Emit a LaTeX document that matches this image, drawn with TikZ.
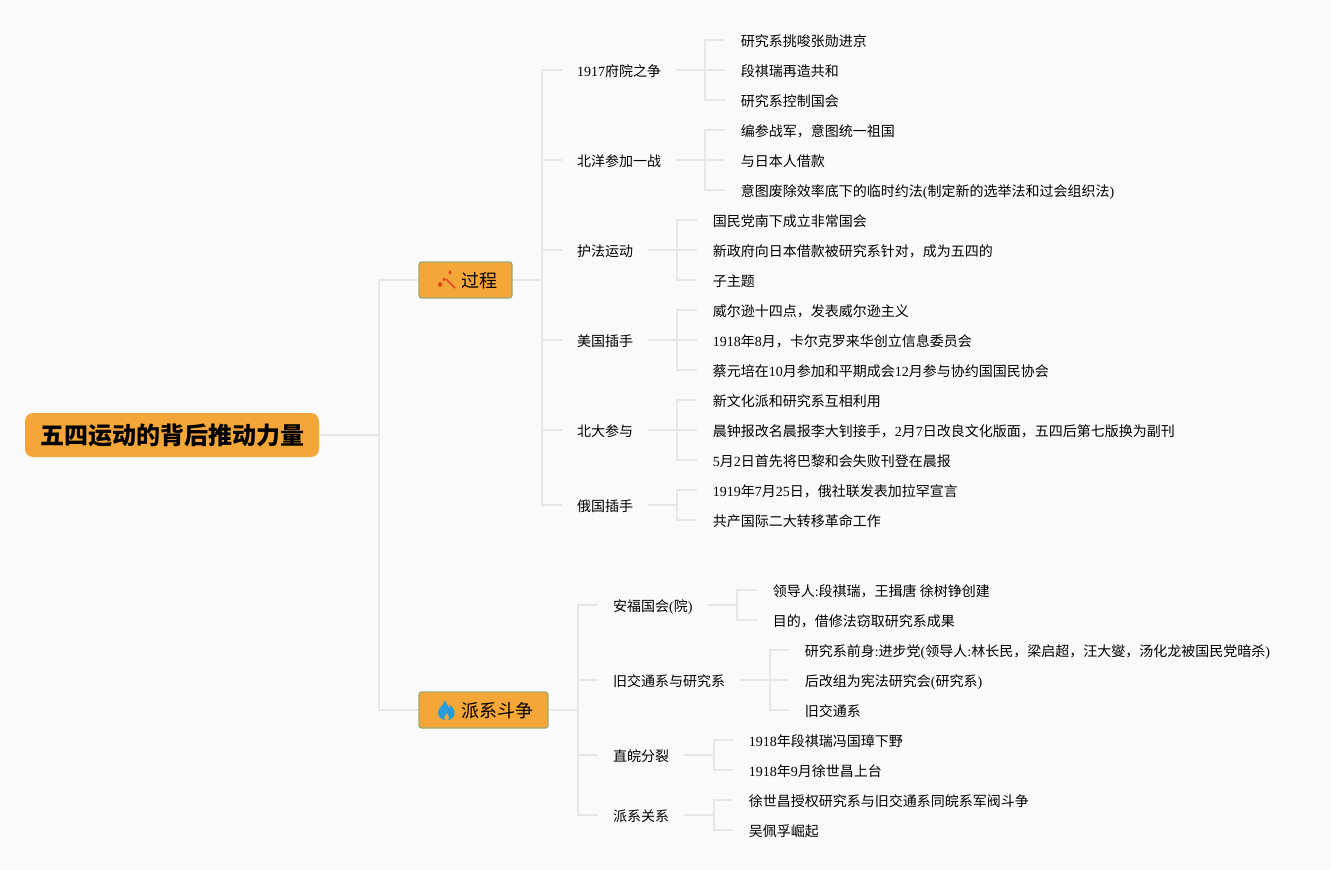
\documentclass[tikz,border=0pt]{standalone}
\usepackage{fontspec}
\setmainfont{Noto Sans CJK SC}
\newfontfamily\latfont{Liberation Serif}
\newcommand{\lat}[1]{{\latfont #1}}
\definecolor{linkgray}{RGB}{232,232,232}
\definecolor{boxorange}{RGB}{244,166,56}
\definecolor{boxedge}{RGB}{160,170,110}
\definecolor{wandred}{RGB}{226,72,26}
\definecolor{flameblue}{RGB}{38,156,218}
\tikzset{every picture/.style={line width=0.75pt}}
\tikzset{
  rootbox/.style={fill=boxorange,rounded corners=6,minimum width=220.5pt,minimum height=33pt,inner sep=0pt,text height=15.2pt,text depth=1.5pt,font=\fontsize{18}{20}\selectfont\bfseries},
  mainbox/.style={fill=boxorange,draw=boxedge,line width=1pt,rounded corners=2,minimum height=27pt,inner sep=0pt,text height=13.2pt,text depth=1.5pt,font=\fontsize{13.5}{15}\selectfont},
  subtext/.style={anchor=west,inner xsep=11pt,inner ysep=2pt,text height=11pt,text depth=1.5pt,font=\fontsize{10.5}{12}\selectfont},
  leaftext/.style={anchor=west,inner xsep=11.5pt,inner ysep=2pt,text height=11pt,text depth=1.5pt,font=\fontsize{10.5}{12}\selectfont},
  trunk/.style={draw=linkgray,line width=1.3pt},
  twig/.style={draw=linkgray,line width=1pt}
}

\begin{document}
\begin{tikzpicture}[x=0.75pt,y=0.75pt,yscale=-1,xscale=1]
\useasboundingbox (0,0) rectangle (1331,870);
\fill [white!98!black] (0,0) rectangle (1331,870);

% Main boxes
\node [rootbox] (root) at (172,435) {五四运动的背后推动力量};
\node [mainbox,minimum width=69.75pt] (guocheng) at (465.5,280) {\hspace{21.5pt}过程};
\node [mainbox,minimum width=96.75pt] (paixi) at (483.5,710) {\hspace{21.5pt}派系斗争};

% Junctions
\coordinate (jroot) at (379,435);
\coordinate (jguo) at (542,280);
\coordinate (jpai) at (578,710);

% Text Node
\node [subtext] (s1) at (562,70) {\lat{1917}府院之争};
\node [subtext] (s2) at (562,160) {北洋参加一战};
\node [subtext] (s3) at (562,250) {护法运动};
\node [subtext] (s4) at (562,340) {美国插手};
\node [subtext] (s5) at (562,430) {北大参与};
\node [subtext] (s6) at (562,505) {俄国插手};
\node [subtext] (p1) at (598,605) {安福国会\lat{(}院\lat{)}};
\node [subtext] (p2) at (598,680) {旧交通系与研究系};
\node [subtext] (p3) at (598,755) {直皖分裂};
\node [subtext] (p4) at (598,815) {派系关系};

% Text Node
\node [leaftext] (a1) at (725,40) {研究系挑唆张勋进京};
\node [leaftext] (a2) at (725,70) {段祺瑞再造共和};
\node [leaftext] (a3) at (725,100) {研究系控制国会};
\node [leaftext] (b1) at (725,130) {编参战军，意图统一祖国};
\node [leaftext] (b2) at (725,160) {与日本人借款};
\node [leaftext] (b3) at (725,190) {意图废除效率底下的临时约法\lat{(}制定新的选举法和过会组织法\lat{)}};
\node [leaftext] (c1) at (697,220) {国民党南下成立非常国会};
\node [leaftext] (c2) at (697,250) {新政府向日本借款被研究系针对，成为五四的};
\node [leaftext] (c3) at (697,280) {子主题};
\node [leaftext] (d1) at (697,310) {威尔逊十四点，发表威尔逊主义};
\node [leaftext] (d2) at (697,340) {\lat{1918}年\lat{8}月，卡尔克罗来华创立信息委员会};
\node [leaftext] (d3) at (697,370) {蔡元培在\lat{10}月参加和平期成会\lat{12}月参与协约国国民协会};
\node [leaftext] (e1) at (697,400) {新文化派和研究系互相利用};
\node [leaftext] (e2) at (697,430) {晨钟报改名晨报李大钊接手，\lat{2}月\lat{7}日改良文化版面，五四后第七版换为副刊};
\node [leaftext] (e3) at (697,460) {\lat{5}月\lat{2}日首先将巴黎和会失败刊登在晨报};
\node [leaftext] (f1) at (697,490) {\lat{1919}年\lat{7}月\lat{25}日，俄社联发表加拉罕宣言};
\node [leaftext] (f2) at (697,520) {共产国际二大转移革命工作};
\node [leaftext] (g1) at (757,590) {领导人\lat{:}段祺瑞，王揖唐 徐树铮创建};
\node [leaftext] (g2) at (757,620) {目的，借修法窃取研究系成果};
\node [leaftext] (h1) at (789,650) {研究系前身\lat{:}进步党\lat{(}领导人\lat{:}林长民，梁启超，汪大燮，汤化龙被国民党暗杀\lat{)}};
\node [leaftext] (h2) at (789,680) {后改组为宪法研究会\lat{(}研究系\lat{)}};
\node [leaftext] (h3) at (789,710) {旧交通系};
\node [leaftext] (i1) at (733,740) {\lat{1918}年段祺瑞冯国璋下野};
\node [leaftext] (i2) at (733,770) {\lat{1918}年\lat{9}月徐世昌上台};
\node [leaftext] (k1) at (733,800) {徐世昌授权研究系与旧交通系同皖系军阀斗争};
\node [leaftext] (k2) at (733,830) {吴佩孚崛起};

% Connectors, root and main
\draw [trunk] (root.east) -- (jroot);
\draw [trunk] (jroot) |- (guocheng.west);
\draw [trunk] (jroot) |- (paixi.west);
\draw [trunk] (guocheng.east) -- (jguo);
\draw [trunk] (paixi.east) -- (jpai);
\draw [trunk] (jguo) |- (s1.west);
\draw [trunk] (jguo) |- (s2.west);
\draw [trunk] (jguo) |- (s3.west);
\draw [trunk] (jguo) |- (s4.west);
\draw [trunk] (jguo) |- (s5.west);
\draw [trunk] (jguo) |- (s6.west);
\draw [trunk] (jpai) |- (p1.west);
\draw [trunk] (jpai) |- (p2.west);
\draw [trunk] (jpai) |- (p3.west);
\draw [trunk] (jpai) |- (p4.west);

% Connectors, leaves
\coordinate (js1) at (705,70);
\coordinate (js2) at (705,160);
\coordinate (js3) at (677,250);
\coordinate (js4) at (677,340);
\coordinate (js5) at (677,430);
\coordinate (js6) at (677,505);
\coordinate (jp1) at (737,605);
\coordinate (jp2) at (770,680);
\coordinate (jp3) at (714,755);
\coordinate (jp4) at (714,815);
\draw [twig] (s1.east) -- (js1);
\draw [twig] (s2.east) -- (js2);
\draw [twig] (s3.east) -- (js3);
\draw [twig] (s4.east) -- (js4);
\draw [twig] (s5.east) -- (js5);
\draw [twig] (s6.east) -- (js6);
\draw [twig] (p1.east) -- (jp1);
\draw [twig] (p2.east) -- (jp2);
\draw [twig] (p3.east) -- (jp3);
\draw [twig] (p4.east) -- (jp4);
\draw [twig] (js1) |- (a1.west);
\draw [twig] (js1) |- (a2.west);
\draw [twig] (js1) |- (a3.west);
\draw [twig] (js2) |- (b1.west);
\draw [twig] (js2) |- (b2.west);
\draw [twig] (js2) |- (b3.west);
\draw [twig] (js3) |- (c1.west);
\draw [twig] (js3) |- (c2.west);
\draw [twig] (js3) |- (c3.west);
\draw [twig] (js4) |- (d1.west);
\draw [twig] (js4) |- (d2.west);
\draw [twig] (js4) |- (d3.west);
\draw [twig] (js5) |- (e1.west);
\draw [twig] (js5) |- (e2.west);
\draw [twig] (js5) |- (e3.west);
\draw [twig] (js6) |- (f1.west);
\draw [twig] (js6) |- (f2.west);
\draw [twig] (jp1) |- (g1.west);
\draw [twig] (jp1) |- (g2.west);
\draw [twig] (jp2) |- (h1.west);
\draw [twig] (jp2) |- (h2.west);
\draw [twig] (jp2) |- (h3.west);
\draw [twig] (jp3) |- (i1.west);
\draw [twig] (jp3) |- (i2.west);
\draw [twig] (jp4) |- (k1.west);
\draw [twig] (jp4) |- (k2.west);

%Shape: wand
\draw [wandred,line width=1.1pt] (446,279) -- (455,288) ;
\fill [wandred] (440,281.5) -- (442.5,284.5) -- (440,287.5) -- (437.5,284.5) -- cycle ;
\fill [wandred] (450,270) -- (451.5,272.5) -- (450,275) -- (448.5,272.5) -- cycle ;
\fill [wandred] (444,277.5) -- (445.5,279.5) -- (444,281.5) -- (442.5,279.5) -- cycle ;
%Shape: flame
\fill [flameblue] (445,700) .. controls (446.5,704) and (448,706) .. (449.5,708) .. controls (450.5,707) and (450.5,706) .. (450.5,705) .. controls (453,707.5) and (455,711) .. (454.5,714) .. controls (454,718) and (450.5,720) .. (446.5,720) .. controls (442,720) and (438,717) .. (438,712.5) .. controls (438,708) and (444,705) .. (445,700) -- cycle ;
\fill [boxorange] (446.5,713) .. controls (447.5,715) and (449.5,716) .. (449,718) .. controls (448.5,719.5) and (447.5,720) .. (446.5,720) .. controls (445,720) and (444,719) .. (444.2,717.5) .. controls (444.5,716) and (446,715) .. (446.5,713) -- cycle ;

\end{tikzpicture}
\end{document}
